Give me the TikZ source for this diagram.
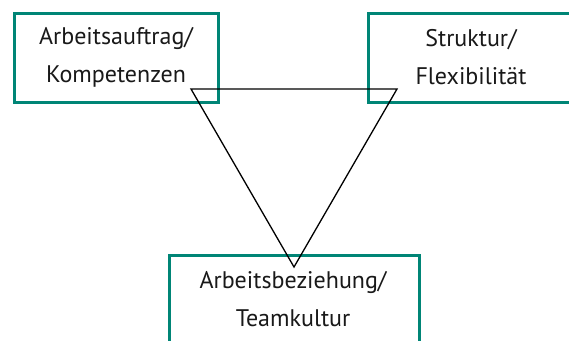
\documentclass[tikz,border=0pt]{standalone}
\usepackage{fontspec}
\setmainfont{PT Sans}
\definecolor{teal1}{RGB}{0,133,118}
\definecolor{txt}{RGB}{25,25,25}
\begin{document}
\begin{tikzpicture}[x=1pt,y=-1pt,
  box/.style={draw=teal1,line width=3pt,fill=white,inner sep=0pt,align=center,
    text=txt,font=\fontsize{24}{38}\selectfont},
  tri/.style={draw=black,line width=1.3pt,line join=miter}]
\clip (0,0) rectangle (569,340);
\fill[white] (0,0) rectangle (569,340);
\node[box,minimum width=204pt,minimum height=89pt] (a) at (116,57.5) {Arbeitsauftrag/\\Kompetenzen};
\node[box,minimum width=206pt,minimum height=89pt] (b) at (471,57.5) {Struktur/\\Flexibilität};
\node[box,minimum width=250pt,minimum height=92pt,anchor=north west] (c) at (168,254) {};
\node[text=txt,font=\fontsize{24}{38}\selectfont,align=center,anchor=north,inner sep=0pt] (ct) at (293,271) {Arbeitsbeziehung/\\Teamkultur};
\coordinate (p1) at (191,89);
\coordinate (p2) at (397,89);
\coordinate (p3) at (294,267);
\draw[tri] (p1) -- (p2) -- (p3) -- cycle;
\end{tikzpicture}
\end{document}
